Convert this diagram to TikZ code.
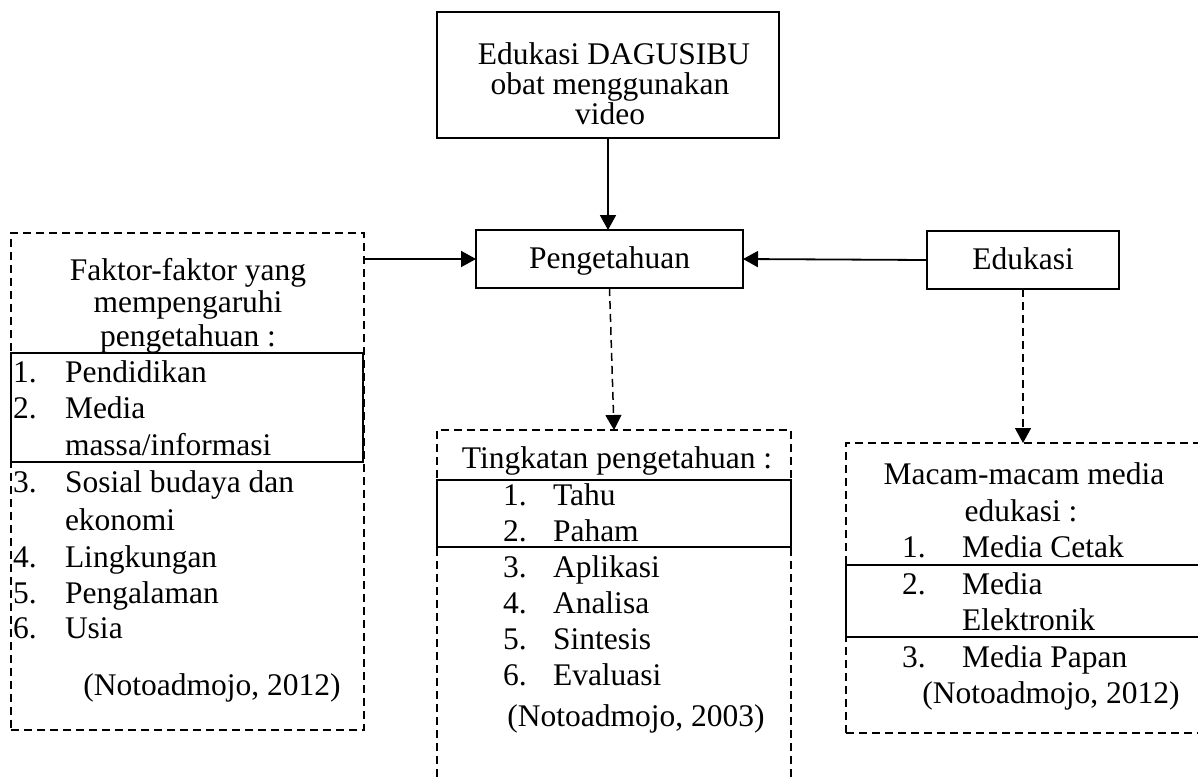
\documentclass[tikz,border=0pt]{standalone}
\usepackage{fontspec}
\setmainfont{Liberation Serif}
\usetikzlibrary{arrows.meta}
\tikzset{
  txt/.style={inner sep=0pt, outer sep=0pt, anchor=base, font=\fontsize{31.5}{36}\selectfont},
  txtl/.style={txt, anchor=base west},
  solidbox/.style={draw, line width=1.8pt, inner sep=0pt, outer sep=0pt, rectangle},
  dashbox/.style={draw, line width=1.5pt, dash pattern=on 8pt off 5pt, inner sep=0pt, outer sep=0pt, rectangle},
  innerbox/.style={draw, line width=1.8pt},
  arr/.style={line width=1.8pt, -{Triangle[width=16pt,length=15pt]}},
  darr/.style={line width=1.5pt, dash pattern=on 8pt off 5pt, -{Triangle[width=16pt,length=15pt]}},
}
\begin{document}
\begin{tikzpicture}[x=1pt,y=-1pt]
\useasboundingbox (0,0) rectangle (1198,780);
\clip (0,0) rectangle (1198,780);

% main solid boxes
\node[solidbox, minimum width=342pt, minimum height=126pt] (top) at (608,75) {};
\node[txt] (t1) at (614,64) {Edukasi DAGUSIBU};
\node[txt] (t2) at (610,94) {obat menggunakan};
\node[txt] (t3) at (610,124) {video};

\node[solidbox, minimum width=267pt, minimum height=58pt, text height=21pt, text depth=2pt, font=\fontsize{31.5}{36}\selectfont] (peng) at (609.5,259) {Pengetahuan};
\node[solidbox, minimum width=192pt, minimum height=58pt, text height=21pt, text depth=2pt, font=\fontsize{31.5}{36}\selectfont] (edu) at (1023,260) {Edukasi};

% dashed boxes
\node[dashbox, minimum width=353pt, minimum height=497pt] (lbox) at (187.5,481.5) {};
\node[dashbox, minimum width=354pt, minimum height=370pt] (mbox) at (614,615) {};
\node[dashbox, minimum width=364pt, minimum height=290pt] (rbox) at (1028,588) {};

% inner solid highlight boxes
\draw[innerbox] (11,353) rectangle (363,462);
\draw[innerbox] (437,480) rectangle (791,547);
\draw[innerbox] (846,565) rectangle (1210,637);

% left box text
\node[txt] (l1) at (188,280) {Faktor-faktor yang};
\node[txt] (l2) at (188,312) {mempengaruhi};
\node[txt] (l3) at (188,346) {pengetahuan :};
\node[txtl] (ln1) at (13,382) {1.};
\node[txtl] (li1) at (65,382) {Pendidikan};
\node[txtl] (ln2) at (13,418) {2.};
\node[txtl] (li2) at (65,418) {Media};
\node[txtl] (li2b) at (65,455) {massa/informasi};
\node[txtl] (ln3) at (13,492) {3.};
\node[txtl] (li3) at (65,492) {Sosial budaya dan};
\node[txtl] (li3b) at (65,530) {ekonomi};
\node[txtl] (ln4) at (13,567) {4.};
\node[txtl] (li4) at (65,567) {Lingkungan};
\node[txtl] (ln5) at (13,603) {5.};
\node[txtl] (li5) at (65,603) {Pengalaman};
\node[txtl] (ln6) at (13,638) {6.};
\node[txtl] (li6) at (65,638) {Usia};
\node[txt] (lref) at (212,695) {(Notoadmojo, 2012)};

% middle box text
\node[txt] (m0) at (617,468) {Tingkatan pengetahuan :};
\node[txtl] (mn1) at (503,505) {1.};
\node[txtl] (mi1) at (553,505) {Tahu};
\node[txtl] (mn2) at (503,541) {2.};
\node[txtl] (mi2) at (553,541) {Paham};
\node[txtl] (mn3) at (503,577) {3.};
\node[txtl] (mi3) at (553,577) {Aplikasi};
\node[txtl] (mn4) at (503,613) {4.};
\node[txtl] (mi4) at (553,613) {Analisa};
\node[txtl] (mn5) at (503,649) {5.};
\node[txtl] (mi5) at (553,649) {Sintesis};
\node[txtl] (mn6) at (503,685) {6.};
\node[txtl] (mi6) at (553,685) {Evaluasi};
\node[txt] (mref) at (636,726) {(Notoadmojo, 2003)};

% right box text
\node[txt] (r1) at (1024,484) {Macam-macam media};
\node[txt] (r2) at (1021,521) {edukasi :};
\node[txtl] (rn1) at (902,557) {1.};
\node[txtl] (ri1) at (962,557) {Media Cetak};
\node[txtl] (rn2) at (902,594) {2.};
\node[txtl] (ri2) at (962,594) {Media};
\node[txtl] (ri2b) at (962,630) {Elektronik};
\node[txtl] (rn3) at (902,667) {3.};
\node[txtl] (ri3) at (962,667) {Media Papan};
\node[txt] (rref) at (1051,703) {(Notoadmojo, 2012)};

% connectors
\draw[arr] (top.south) -- (top.south |- peng.north);
\draw[arr] (peng.west -| lbox.east) -- (peng.west);
\draw[arr] (edu.west) -- (peng.east);
\draw[darr] (peng.south) -- (mbox.north);
\draw[darr] (edu.south) -- (edu.south |- rbox.north);
\end{tikzpicture}
\end{document}
